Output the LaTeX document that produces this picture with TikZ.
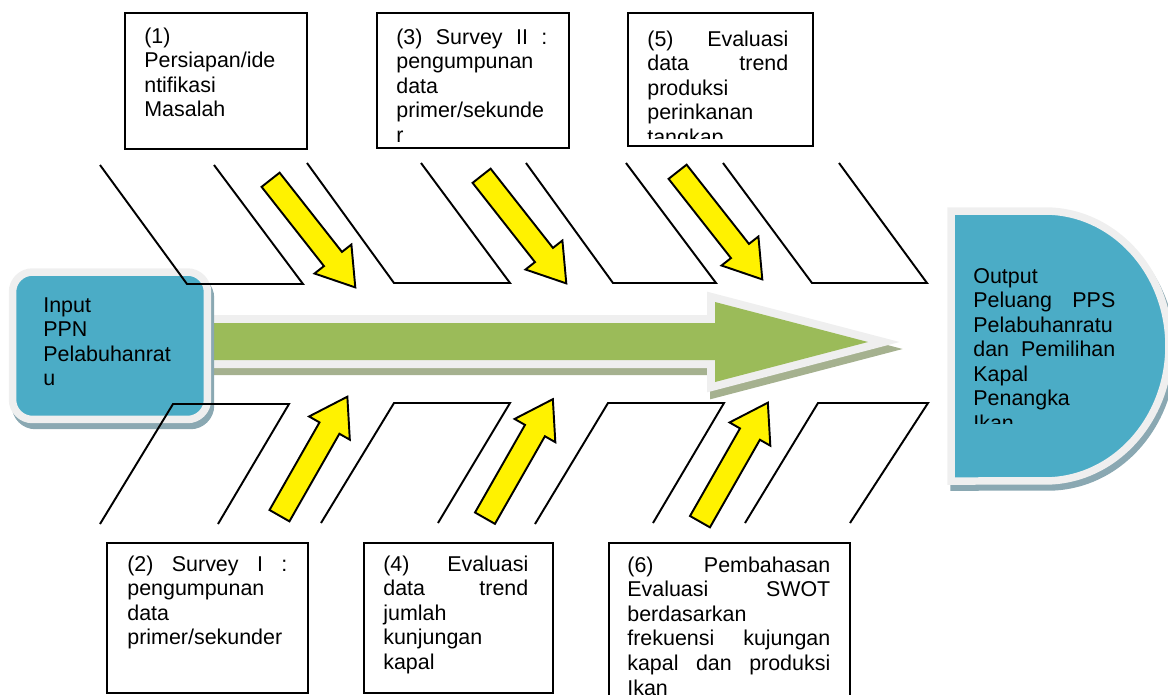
\documentclass[tikz,border=0pt]{standalone}
\usepackage{fontspec}
\setmainfont{Liberation Sans}
\usetikzlibrary{shapes.arrows}
\definecolor{tealbox}{HTML}{4BACC6}
\definecolor{lightrim}{HTML}{EFEFEF}
\definecolor{shadowblue}{HTML}{8AA8B2}
\definecolor{mainarrow}{HTML}{9BBB59}
\definecolor{shadowgreen}{HTML}{A5B18F}
\tikzset{
box/.style={rectangle, draw, line width=1.1pt, inner sep=0pt, anchor=north west},
txt/.style={font=\fontsize{12.2}{14}\selectfont, align=left, inner sep=0pt, anchor=base west},
bone/.style={draw, line width=1.1pt},
inbox/.style={rectangle, rounded corners=0.4cm, line width=0.15cm, minimum width=3.9cm, minimum height=2.95cm},
yarrow/.style={single arrow, draw, fill=yellow, line width=1.1pt, inner xsep=0pt, inner ysep=0.21cm,
  single arrow head extend=0.24cm, single arrow tip angle=66, minimum height=2.74cm, anchor=tail}
}

\begin{document}
\begin{tikzpicture}[x=0.02cm, y=-0.02cm]
    \useasboundingbox (0,0) rectangle (1168,694);
    % Main arrow
    \path [fill=shadowgreen, draw=shadowgreen, line width=0.32cm] (193,330) -- (718,330) -- (718,309) -- (871,349) -- (718,389) -- (718,367) -- (193,367) -- cycle;
    \path [fill=mainarrow, preaction={draw=lightrim, line width=0.32cm}] (190,323) -- (715,323) -- (715,302) -- (868,342) -- (715,382) -- (715,360) -- (190,360) -- cycle;
    % Input and output
    \node [inbox, fill=shadowblue, draw=shadowblue] (inshadow) at (113,351.75) {};
    \node [inbox, fill=tealbox, draw=lightrim] (input) at (110,345.75) {};
    \node [txt, text width=2.7cm] (intext) at (43,312) {Input\\ PPN\\ Pelabuhanrat\\ u};
    \path [fill=shadowblue, draw=shadowblue, line width=0.15cm] (954,217) -- (1048,217) arc [start angle=90, end angle=-90, x radius=2.48cm, y radius=2.7cm] -- (954,487) -- cycle;
    \path [fill=tealbox, draw=lightrim, line width=0.15cm] (951,211) -- (1045,211) arc [start angle=90, end angle=-90, x radius=2.48cm, y radius=2.7cm] -- (951,481) -- cycle;
    \begin{scope}
        \clip (955,215) rectangle (1168,423);
        \node [txt, text width=2.84cm] (outtext) at (973,283) {Output\\ Peluang\hfill PPS\\ Pelabuhanratu\\ dan\hfill Pemilihan\\ Kapal\\ Penangka\\ Ikan};
    \end{scope}
    % Upper bones
    \draw [bone] (100,165) -- (187,284) -- (303,284) -- (214,165);
    \draw [bone] (307,163) -- (394,283) -- (510,283) -- (421,163);
    \draw [bone] (526,163) -- (613,283) -- (716,283) -- (626,163);
    \draw [bone] (723,163) -- (812,283) -- (927,283) -- (839,163);
    % Lower bones
    \draw [bone] (100,524) -- (173,404) -- (289,404) -- (218,524);
    \draw [bone] (321,523) -- (394,403) -- (510,403) -- (438,523);
    \draw [bone] (535,524) -- (608,403) -- (724,403) -- (653,523);
    \draw [bone] (745,523) -- (818,403) -- (928,403) -- (850,523);
    % Steps
    \node [box, minimum width=3.64cm, minimum height=2.72cm] (b1) at (124,12) {};
    \node [box, minimum width=3.84cm, minimum height=2.7cm] (b3) at (376,12) {};
    \node [box, minimum width=3.7cm, minimum height=2.66cm] (b5) at (627,12) {};
    \node [box, minimum width=4.02cm, minimum height=3cm] (b2) at (106,542) {};
    \node [box, minimum width=3.78cm, minimum height=3cm] (b4) at (363,542) {};
    \node [box, minimum width=4.82cm, minimum height=3.6cm] (b6) at (608,542) {};
    \node [txt, text width=3cm] (t1) at ([shift={(20,31)}]b1.north west) {(1)\\ Persiapan/ide\\ ntifikasi\\ Masalah};
    \node [txt, text width=3.02cm] (t3) at ([shift={(20,32)}]b3.north west) {(3)\hfill Survey\hfill II\hfill :\\ pengumpunan\\ data\\ primer/sekunde\\ r};
    \begin{scope}
        \clip (627,12) rectangle (812,138);
        \node [txt, text width=2.82cm] (t5) at ([shift={(20,34)}]b5.north west) {(5)\hfill Evaluasi\\ data\hfill trend\\ produksi\\ perinkanan\\ tangkap};
    \end{scope}
    \node [txt, text width=3.2cm] (t2) at ([shift={(21,29)}]b2.north west) {(2)\hfill Survey\hfill I\hfill :\\ pengumpunan\\ data\\ primer/sekunder};
    \node [txt, text width=2.9cm] (t4) at ([shift={(20,29)}]b4.north west) {(4)\hfill Evaluasi\\ data\hfill trend\\ jumlah\\ kunjungan\\ kapal};
    \node [txt, text width=4.06cm] (t6) at ([shift={(19,30)}]b6.north west) {(6)\hfill Pembahasan\\ Evaluasi\hfill SWOT\\ berdasarkan\\ frekuensi\hfill kujungan\\ kapal\hfill dan\hfill produksi\\ Ikan};
    % Yellow arrows
    \node [yarrow, rotate=-51.8] (ya1) at (270,179) {};
    \node [yarrow, rotate=-51.8] (ya3) at (481,175) {};
    \node [yarrow, rotate=-51.8] (ya5) at (677,171) {};
    \node [yarrow, rotate=60.3] (ya2) at (279,516.5) {};
    \node [yarrow, rotate=60.3] (ya4) at (484.5,519) {};
    \node [yarrow, rotate=60.3] (ya6) at (699.5,522.5) {};
\end{tikzpicture}
\end{document}
